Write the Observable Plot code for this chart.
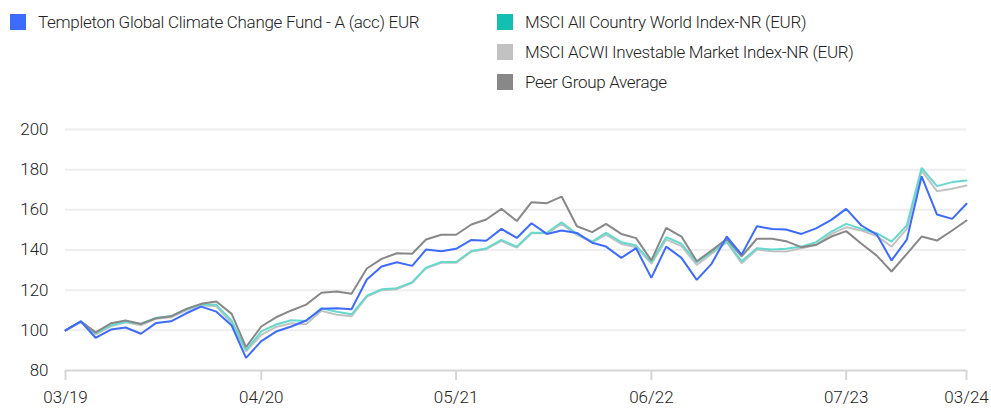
<!DOCTYPE html>
<html>
<head>
<meta charset="utf-8">
<script src="https://cdn.jsdelivr.net/npm/d3@7"></script>
<script src="https://cdn.jsdelivr.net/npm/@observablehq/plot@0.6"></script>
<style>
  html, body { margin: 0; padding: 0; background: #fff; }
  body { width: 991px; height: 410px; overflow: hidden; font-family: Roboto, "Noto Sans", sans-serif; }
  #legend { position: relative; height: 100px; }
  .item { position: absolute; display: flex; align-items: center; font-size: 17px; font-weight: 300; color: #222; letter-spacing: -0.3px; white-space: nowrap; }
  .sw { width: 16px; height: 16px; margin-right: 12px; flex: none; }
  #chart svg { display: block; }
</style>
</head>
<body>
<div id="legend"></div>
<div id="chart"></div>
<script>
const seriesNames = [
  "Templeton Global Climate Change Fund - A (acc) EUR",
  "MSCI All Country World Index-NR (EUR)",
  "MSCI ACWI Investable Market Index-NR (EUR)",
  "Peer Group Average"
];
const seriesColors = ["#3d6bff", "#66d9ce", "#c2c2c2", "#888888"];
const legendSwatch = ["#3d6bff", "#12bfb0", "#c2c2c2", "#888888"];

const startMonth = "2019-03";
const endMonth = "2024-03";
const tickLabels = ["03/19", "04/20", "05/21", "06/22", "07/23", "03/24"];
const tickMonths = ["2019-03", "2020-04", "2021-05", "2022-06", "2023-07", "2024-03"];
const yTicks = [80, 100, 120, 140, 160, 180, 200];

const fund = [100,104.5,96.3,100.4,101.4,98.3,103.7,104.5,108.5,111.8,109.3,102.4,86.3,94.6,99.4,101.9,104.9,110.7,111,110.5,125.3,131.8,133.9,132.1,140.2,139.4,140.6,145,144.6,150.5,146,153.3,148,149.7,148.5,143.6,141.7,136.1,140.9,126.1,141.7,136.1,125.1,133.1,146.7,137.7,151.8,150.5,150.2,148,150.8,155,160.5,152.2,147.7,134.8,145.2,176.7,157.7,155.5,163];
const acwi = [100,104.3,98.5,102.5,104.3,103.3,106.3,107,110.5,113,112.7,104.8,90,99.5,102.9,105,104.6,111,109.3,108,117.2,120.4,121,124,131.2,134,134,139.5,140.8,145,141.6,148.6,148.6,153.8,148,144.2,148.5,143.9,142.2,134,146.4,143.1,133.9,138.9,144.4,134.4,140.9,140.2,140.6,141.7,143.9,149.2,153,150.5,148.4,144.2,152.2,180.9,171.8,173.8,174.6];
const imi = [100,104,98,102,104,102.5,105.8,106.5,110,112.5,112,103.5,89.5,97.7,101.7,103.5,103,109.7,107.8,107,116.8,120,120.5,123.6,130.9,133.6,133.6,139.2,140.4,144.5,141.2,148.3,148.3,153,147.5,143.8,147.7,143,141.4,133.2,145.2,141.9,132.6,138.1,143.9,133.4,140.2,139.4,139.2,140.9,142.5,148,151.3,149.7,147,141.7,150.5,179.5,169.3,170.5,172.1];
const peer = [100,104.5,99,103.5,104.9,103.2,106,107,110.7,113.2,114.4,108.2,91.6,101.9,106.5,109.9,112.8,118.7,119.3,118.2,130.8,135.6,138.4,138.1,145.2,147.6,147.6,152.7,155.2,160.5,154.4,163.8,163.3,166.6,151.8,148.9,153,148,145.9,134.8,151,146.7,134.4,139.7,145.6,136.8,145.6,145.6,144.4,141.4,142.6,146.7,149.4,143.1,137.2,129.3,138.1,146.7,144.7,149.7,154.7];

// Legend
const legendPos = [
  {x: 10, y: 22}, {x: 497, y: 22}, {x: 497, y: 52}, {x: 497, y: 82}
];
const legend = document.getElementById("legend");
seriesNames.forEach((name, i) => {
  const d = document.createElement("div");
  d.className = "item";
  d.style.left = legendPos[i].x + "px";
  d.style.top = (legendPos[i].y - 11) + "px";
  d.style.height = "22px";
  d.innerHTML = `<span class="sw" style="background:${legendSwatch[i]}"></span><span>${name}</span>`;
  legend.appendChild(d);
});

const parse = d3.utcParse("%Y-%m");
const months = d3.utcMonth.range(parse(startMonth), d3.utcMonth.offset(parse(endMonth), 1));
const allSeries = [fund, acwi, imi, peer];
const rows = [];
const drawOrder = [2, 1, 3, 0];
drawOrder.forEach(s => {
  allSeries[s].forEach((v, i) => rows.push({date: months[i], value: v, series: seriesNames[s]}));
});
const tickDates = tickMonths.map(parse);

const chart = Plot.plot({
  width: 991,
  height: 310,
  marginTop: 29,
  marginBottom: 40,
  marginLeft: 65,
  marginRight: 25,
  style: {fontFamily: "Roboto, sans-serif", fontSize: "17px", fontWeight: 300, color: "#222", background: "#fff"},
  x: {type: "utc", domain: [parse(startMonth), parse(endMonth)]},
  y: {domain: [80, 200]},
  color: {domain: seriesNames, range: seriesColors},
  marks: [
    Plot.ruleY(yTicks.filter(t => t > 80), {stroke: "#eeeeee", strokeWidth: 2}),
    Plot.ruleY([80], {stroke: "#d6d6d6", strokeWidth: 2}),
    Plot.axisY({ticks: yTicks, tickSize: 0, tickPadding: 17, tickFormat: d => String(d), fill: "#222", label: null}),
    Plot.axisX({ticks: tickDates, tickSize: 10, tickPadding: 10, stroke: "#d6d6d6", strokeWidth: 2,
      tickFormat: (d, i) => tickLabels[i], fill: "#222", label: null}),
    Plot.lineY(rows, {x: "date", y: "value", z: "series", stroke: "series", strokeWidth: 2, strokeLinejoin: "miter"})
  ]
});
document.getElementById("chart").appendChild(chart);
</script>
</body>
</html>
